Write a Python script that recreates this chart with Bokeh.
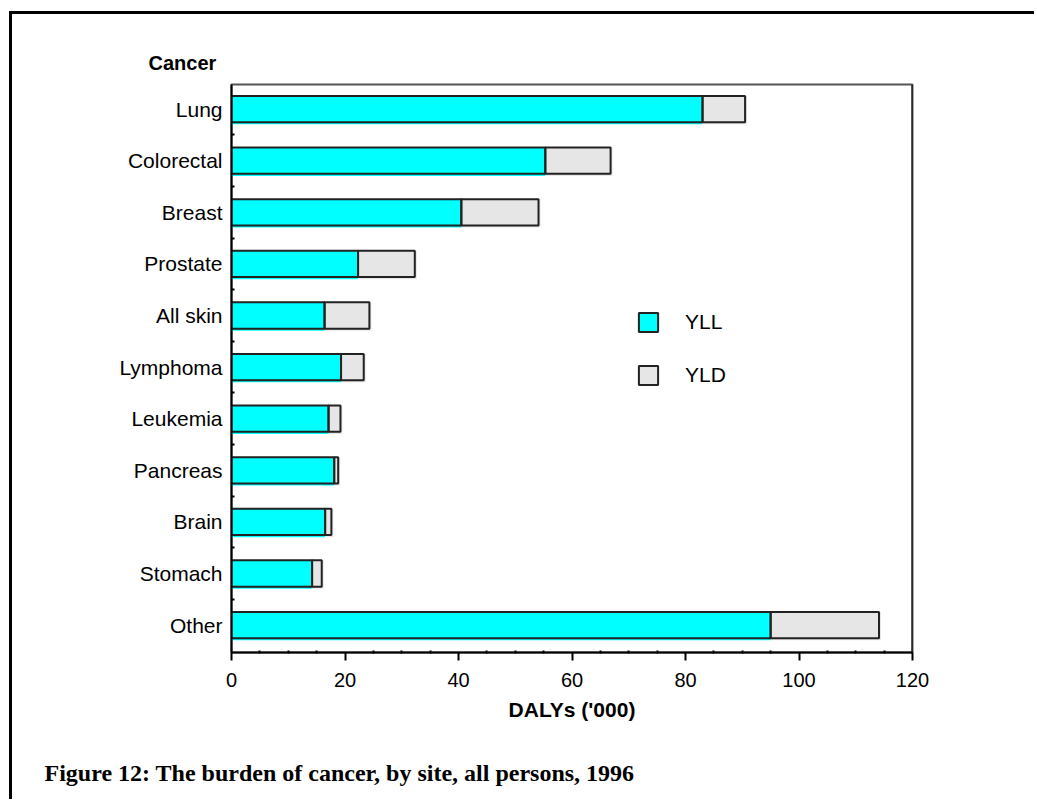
from bokeh.plotting import figure
from bokeh.layouts import column
from bokeh.models import (ColumnDataSource, Range1d, FixedTicker, Legend, LegendItem,
                          Span)
from bokeh.embed import file_html
from bokeh.resources import INLINE

# ---- data ----
categories = ["Lung", "Colorectal", "Breast", "Prostate", "All skin", "Lymphoma",
              "Leukemia", "Pancreas", "Brain", "Stomach", "Other"]
yll = [83.0, 55.3, 40.5, 22.3, 16.4, 19.3, 17.1, 18.1, 16.5, 14.2, 95.0]
yld = [7.5, 11.5, 13.6, 10.0, 7.9, 4.0, 2.1, 0.7, 1.1, 1.7, 19.1]
x_ticks = [0, 20, 40, 60, 80, 100, 120]
x_minor = [5, 10, 15, 25, 30, 35, 45, 50, 55, 65, 70, 75, 85, 90, 95, 105, 110, 115]
series_names = ["YLL", "YLD"]
x_title = "DALYs ('000)"
y_title = "Cancer"
caption = "Figure 12: The burden of cancer, by site, all persons, 1996"

FONT = "Liberation Sans"
CYAN = "#00FFFF"
GREY = "#E6E6E6"
EDGE = "#222222"
BAR_H = 0.51
SHIFT = 0.02     # fill drop shadow (data units of y)
XSHADOW = 0.35   # grey shadow to the right
W = 1022

n = len(categories)
pos = [n - 1 - i for i in range(n)]
total = [a + b for a, b in zip(yll, yld)]

src = ColumnDataSource(dict(
    cat=categories, y=pos, ys=[p - SHIFT for p in pos],
    zero=[0] * n, yll=yll, total=total, total_s=[t + XSHADOW for t in total],
))

p = figure(width=W, height=723, output_backend="svg", toolbar_location=None,
           x_range=Range1d(0, 120), y_range=Range1d(-0.531, n - 1 + 0.477),
           min_border_left=219, min_border_right=122, min_border_top=70,
           min_border_bottom=85, background_fill_color="white",
           border_fill_color="white")

# fills (slightly offset, as in the scanned original)
f_yll = p.hbar(y="ys", left="zero", right="yll", height=BAR_H + 2 * SHIFT, source=src,
               fill_color=CYAN, line_color=None)
f_yld = p.hbar(y="ys", left="yll", right="total_s", height=BAR_H + 2 * SHIFT, source=src,
               fill_color=GREY, line_color=None)
# outlines
o_yll = p.hbar(y="y", left="zero", right="yll", height=BAR_H, source=src,
               fill_alpha=0, line_color=EDGE, line_width=2)
o_yld = p.hbar(y="y", left="yll", right="total", height=BAR_H, source=src,
               fill_alpha=0, line_color=EDGE, line_width=2)

# frame
p.xgrid.visible = False
p.ygrid.visible = False
p.outline_line_color = "#555555"
p.outline_line_width = 2
p.add_layout(Span(location=120, dimension="height", line_color="black", line_width=2))

# x axis
xa = p.xaxis[0]
xa.ticker = FixedTicker(ticks=x_ticks, minor_ticks=x_minor)
xa.axis_label = x_title
xa.axis_label_text_font = FONT
xa.axis_label_text_font_style = "bold"
xa.axis_label_text_font_size = "21px"
xa.axis_label_text_color = "black"
xa.axis_label_standoff = 8
xa.major_label_text_font = FONT
xa.major_label_text_font_size = "20px"
xa.major_label_text_color = "black"
xa.major_label_standoff = 12
xa.axis_line_color = "black"
xa.axis_line_width = 2
xa.major_tick_line_color = "black"
xa.major_tick_line_width = 2
xa.major_tick_in = 0
xa.major_tick_out = 8
xa.minor_tick_line_color = "black"
xa.minor_tick_line_width = 2
xa.minor_tick_in = 2
xa.minor_tick_out = 1

# y axis
ya = p.yaxis[0]
ya.ticker = FixedTicker(ticks=pos, minor_ticks=[q + 0.5 for q in pos[1:]])
ya.major_label_overrides = {q: c for q, c in zip(pos, categories)}
ya.major_label_text_font = FONT
ya.major_label_text_font_size = "21px"
ya.major_label_text_color = "black"
ya.major_label_standoff = 9
ya.axis_line_color = "black"
ya.axis_line_width = 2
ya.major_tick_in = 0
ya.major_tick_out = 0
ya.minor_tick_line_color = "black"
ya.minor_tick_line_width = 2
ya.minor_tick_in = 3
ya.minor_tick_out = 0

# title "Cancer"
p.title.text = y_title
p.title.align = "left"
p.title.offset = -83
p.title.text_font = FONT
p.title.text_font_style = "bold"
p.title.text_font_size = "20px"
p.title.text_color = "black"
p.title.standoff = 22

# legend
legend = Legend(items=[LegendItem(label=series_names[0], renderers=[f_yll, o_yll]),
                       LegendItem(label=series_names[1], renderers=[f_yld, o_yld])],
                location=(405, 265), glyph_width=24, glyph_height=24, label_standoff=25,
                spacing=29, padding=0, margin=0, border_line_alpha=0,
                background_fill_alpha=0, label_text_font=FONT,
                label_text_font_size="21px", label_text_color="black")
p.add_layout(legend)

# caption strip below the chart
cap = figure(width=W, height=62, output_backend="svg", toolbar_location=None,
             x_axis_type=None, y_axis_type=None, min_border_left=0,
             min_border_right=0, min_border_top=50, min_border_bottom=0,
             background_fill_color="white", border_fill_color="white")
cap.outline_line_color = None
cap.xgrid.visible = False
cap.ygrid.visible = False
cap.title.text = caption
cap.title.align = "left"
cap.title.offset = -187
cap.title.text_font = "Liberation Serif"
cap.title.text_font_style = "bold"
cap.title.text_font_size = "24px"
cap.title.text_color = "black"
cap.title.standoff = 4

layout = column(p, cap, spacing=0,
                styles={"margin-left": "9px", "margin-top": "11px",
                        "border-left": "3px solid black",
                        "border-top": "3px solid black"})

open("out.html", "w").write(file_html(layout, INLINE))
